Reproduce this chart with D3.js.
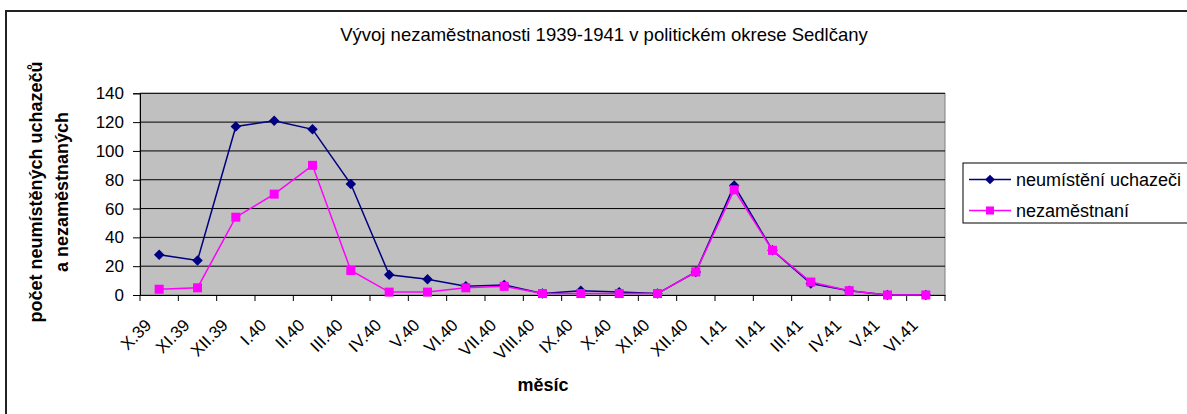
<!DOCTYPE html>
<html><head><meta charset="utf-8">
<script src="https://cdn.jsdelivr.net/npm/d3@7"></script>
<style>body{margin:0;background:#fff;}svg{display:block;font-family:"Liberation Sans",Arial,sans-serif;}</style>
</head><body>
<svg id="c" width="1187" height="414"></svg>
<script>
const categories = ["X.39","XI.39","XII.39","I.40","II.40","III.40","IV.40","V.40","VI.40","VII.40","VIII.40","IX.40","X.40","XI.40","XII.40","I.41","II.41","III.41","IV.41","V.41","VI.41"];
const uchazeci = [28,24,117,121,115,77,14,11,6,7,1,3,2,1,16,76,31,8,3,0,0];
const nezamestnani = [4,5,54,70,90,17,2,2,5,6,1,1,1,1,16,73,31,9,3,0,0];
const yTicks = [0,20,40,60,80,100,120,140];
const seriesNames = ["neumístění uchazeči","nezaměstnaní"];
const colors = ["#000080","#FF00FF"];

const svg = d3.select("#c");
// outer frame
svg.append("path").attr("d","M6,1000 V11 H1200").attr("fill","none").attr("stroke","#222").attr("stroke-width",2);

const L=140,R=945,T=93.3,B=295;
const x = d3.scaleBand().domain(categories).range([L,R]);
const y = d3.scaleLinear().domain([0,140]).range([B,T]);

svg.append("rect").attr("x",L).attr("y",T).attr("width",R-L).attr("height",B-T).attr("fill","#C0C0C0").attr("stroke","#808080");

// grid
svg.append("g").selectAll("line").data(yTicks.filter(d=>d>0)).join("line")
  .attr("x1",L).attr("x2",R).attr("y1",d=>y(d)).attr("y2",d=>y(d)).attr("stroke","#000").attr("stroke-width",1);

// y axis
const ya = svg.append("g").attr("transform",`translate(${L},0)`).call(d3.axisLeft(y).tickValues(yTicks).tickSize(7).tickPadding(9));
ya.selectAll("text").attr("font-size","17px").attr("fill","#000");
ya.select(".domain").attr("stroke","#000");
// x axis
const xa = svg.append("g").attr("transform",`translate(0,${B})`).call(d3.axisBottom(x).tickSize(0).tickFormat(""));
xa.select(".domain").attr("stroke","#000");
const bounds = categories.map(c=>x(c)).concat([R]);
svg.append("g").selectAll("line").data(bounds).join("line")
  .attr("x1",d=>d).attr("x2",d=>d).attr("y1",B).attr("y2",B+6).attr("stroke","#000");
svg.append("g").selectAll("text").data(categories).join("text")
  .attr("transform",d=>`translate(${x(d)+x.bandwidth()/2-11},${B+27}) rotate(-45)`)
  .attr("text-anchor","end").attr("dy","0.35em").attr("font-size","17px").text(d=>d);

// lines
const cx = d=>x(d)+x.bandwidth()/2;
[uchazeci,nezamestnani].forEach((vals,i)=>{
  const line = d3.line().x((v,j)=>cx(categories[j])).y(v=>y(v));
  svg.append("path").datum(vals).attr("d",line).attr("fill","none").attr("stroke",colors[i]).attr("stroke-width",1.5);
});
svg.append("g").selectAll("path").data(uchazeci).join("path")
  .attr("d",d3.symbol(d3.symbolDiamond2,70)).attr("transform",(v,j)=>`translate(${cx(categories[j])},${y(v)})`).attr("fill",colors[0]);
svg.append("g").selectAll("rect").data(nezamestnani).join("rect")
  .attr("x",(v,j)=>cx(categories[j])-4.5).attr("y",v=>y(v)-4.5).attr("width",9).attr("height",9).attr("fill",colors[1]);

// title
svg.append("text").attr("x",604).attr("y",41).attr("text-anchor","middle").attr("font-size","18.5px").text("Vývoj nezaměstnanosti 1939-1941 v politickém okrese Sedlčany");
// axis titles
svg.append("text").attr("x",543).attr("y",391).attr("text-anchor","middle").attr("font-size","18px").attr("font-weight","bold").text("měsíc");
const yt = svg.append("text").attr("transform","translate(42,192) rotate(-90)").attr("text-anchor","middle").attr("font-size","18px").attr("font-weight","bold");
yt.append("tspan").attr("x",0).attr("dy",0).text("počet neumístěných uchazečů");
yt.append("tspan").attr("x",0).attr("dy","26").text("a nezaměstnaných");

// legend
svg.append("rect").attr("x",963).attr("y",163).attr("width",240).attr("height",60).attr("fill","#fff").attr("stroke","#000");
[0,1].forEach(i=>{
  const yy = 179.5+i*31;
  svg.append("line").attr("x1",969).attr("x2",1011).attr("y1",yy).attr("y2",yy).attr("stroke",colors[i]).attr("stroke-width",1.5);
  if(i===0) svg.append("path").attr("d",d3.symbol(d3.symbolDiamond2,60)).attr("transform",`translate(990,${yy})`).attr("fill",colors[0]);
  else svg.append("rect").attr("x",986).attr("y",yy-4).attr("width",8).attr("height",8).attr("fill",colors[1]);
  svg.append("text").attr("x",1016).attr("y",yy).attr("dy","0.35em").attr("font-size","18px").text(seriesNames[i]);
});
</script>
</body></html>
